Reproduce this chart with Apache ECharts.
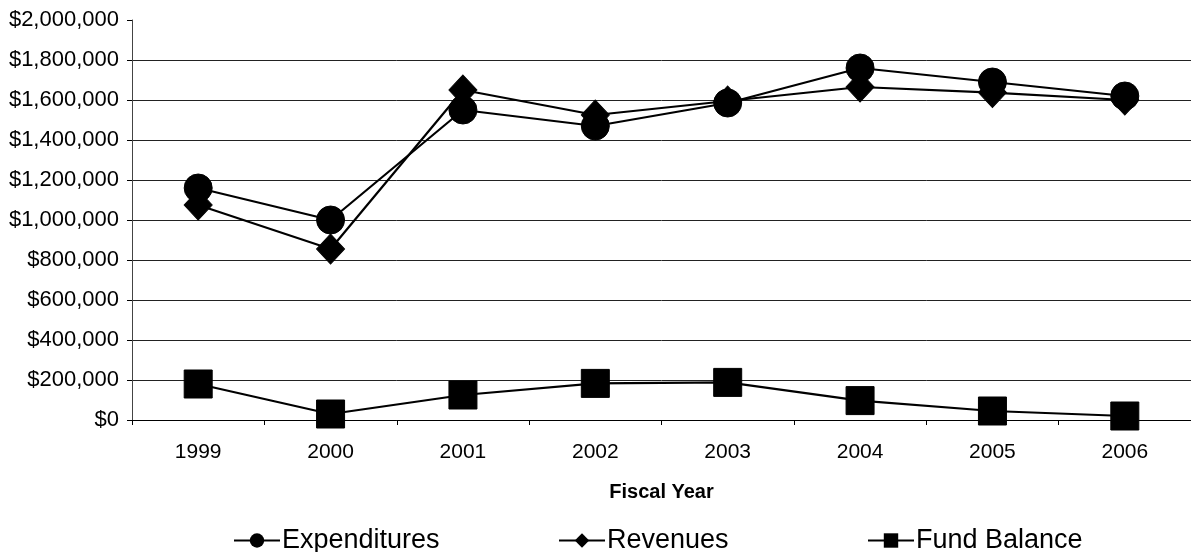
<!DOCTYPE html>
<html>
<head>
<meta charset="utf-8">
<title>Expenditures, Revenues and Fund Balance by Fiscal Year</title>
<script src="https://cdn.jsdelivr.net/npm/echarts@6/dist/echarts.min.js"></script>
<style>
  html, body { margin: 0; padding: 0; background: #fff; }
  #chart { width: 1191px; height: 552px; }
</style>
</head>
<body>
<div id="chart"></div>
<script>
// Fiscal years on the category axis
const years = ['1999', '2000', '2001', '2002', '2003', '2004', '2005', '2006'];

// Annual totals in dollars
const expenditures = [1160000, 1000000, 1550000, 1470000, 1585000, 1760000, 1690000, 1620000];
const revenues     = [1075000, 855000, 1650000, 1525000, 1595000, 1665000, 1637000, 1600000];
const fundBalance  = [180000, 30000, 125000, 183000, 188000, 97000, 45000, 20000];

// Value axis range and step
const yMin = 0;
const yMax = 2000000;
const yStep = 200000;

const fontFamily = '"Liberation Sans", Arial, sans-serif';
const ink = '#000';

function money(v) {
  return '$' + Math.round(v).toLocaleString('en-US');
}

// One color per split line; the top line (at yMax) is left out
const splitColors = [];
for (let v = yMin; v <= yMax; v += yStep) {
  splitColors.push(v === yMax ? 'rgba(0,0,0,0)' : '#222');
}

function lineSeries(name, data, symbol, size) {
  return {
    name: name,
    type: 'line',
    data: data,
    symbol: symbol,
    symbolSize: size,
    showAllSymbol: true,
    lineStyle: { color: ink, width: 2.2 },
    itemStyle: { color: ink, borderColor: ink },
    emphasis: { disabled: true },
    animation: false,
    z: 3
  };
}

// One legend block per series so each entry sits at its own position
function legendAt(name, left) {
  return {
    top: 522,
    left: left,
    itemWidth: 46,
    itemHeight: 18,
    itemGap: 0,
    textStyle: { fontFamily: fontFamily, fontSize: 27, color: ink, padding: [0, 0, 0, -3] },
    data: [name]
  };
}

const chart = echarts.init(document.getElementById('chart'), null, { renderer: 'canvas' });

chart.setOption({
  backgroundColor: '#fff',
  animation: false,
  textStyle: { fontFamily: fontFamily, color: ink },
  grid: { left: 132, top: 20, width: 1064, height: 400, containLabel: false },
  legend: [
    legendAt('Expenditures', 228),
    legendAt('Revenues', 553),
    legendAt('Fund Balance', 862)
  ],
  xAxis: {
    type: 'category',
    data: years,
    boundaryGap: true,
    name: 'Fiscal Year',
    nameLocation: 'middle',
    nameGap: 62,
    nameTextStyle: { fontFamily: fontFamily, fontSize: 20, fontWeight: 'bold', color: ink },
    axisLine: { show: true, lineStyle: { color: ink, width: 1 } },
    axisTick: { show: true, alignWithLabel: false, length: 5, inside: false, lineStyle: { color: ink } },
    axisLabel: { fontFamily: fontFamily, fontSize: 21, color: ink, margin: 22 },
    splitLine: { show: false }
  },
  yAxis: {
    type: 'value',
    min: yMin,
    max: yMax,
    interval: yStep,
    axisLine: { show: true, lineStyle: { color: '#444', width: 1 } },
    axisTick: { show: true, length: 5, lineStyle: { color: ink } },
    axisLabel: { fontFamily: fontFamily, fontSize: 22, color: ink, margin: 13, formatter: money },
    splitLine: { show: true, lineStyle: { color: splitColors, width: 1 } }
  },
  series: [
    lineSeries('Expenditures', expenditures, 'circle', 28),
    lineSeries('Revenues', revenues, 'diamond', [28, 30]),
    lineSeries('Fund Balance', fundBalance, 'rect', 28)
  ]
});
</script>
</body>
</html>
